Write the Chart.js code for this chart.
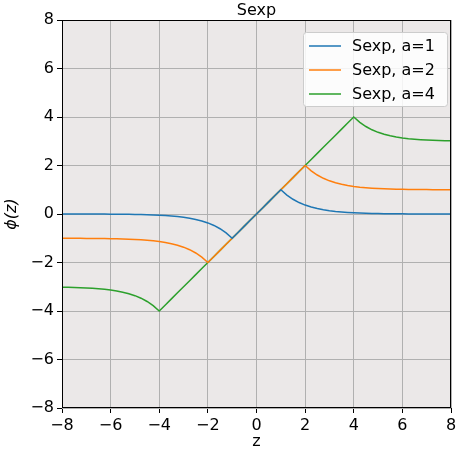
<!DOCTYPE html>
<html>
<head>
<meta charset="utf-8">
<script src="https://cdn.jsdelivr.net/npm/chart.js@4/dist/chart.umd.min.js"></script>
<style>
  html, body { margin: 0; padding: 0; background: #fff; }
  #wrap { width: 463px; height: 453px; }
</style>
</head>
<body>
<div id="wrap"><canvas id="c"></canvas></div>
<script>
// values
const zValues = [-8, -7.75, -7.5, -7.25, -7, -6.75, -6.5, -6.25, -6, -5.75, -5.5, -5.25, -5, -4.75, -4.5, -4.25,
    -4, -3.75, -3.5, -3.25, -3, -2.75, -2.5, -2.25, -2, -1.75, -1.5, -1.25, -1, -0.75, -0.5, -0.25,
    0, 0.25, 0.5, 0.75, 1, 1.25, 1.5, 1.75, 2, 2.25, 2.5, 2.75, 3, 3.25, 3.5, 3.75,
    4, 4.25, 4.5, 4.75, 5, 5.25, 5.5, 5.75, 6, 6.25, 6.5, 6.75, 7, 7.25, 7.5, 7.75, 8];
const sexpA1 = [-0.001, -0.001, -0.002, -0.002, -0.002, -0.003, -0.004, -0.005, -0.007, -0.009, -0.011, -0.014,
    -0.018, -0.024, -0.03, -0.039, -0.05, -0.064, -0.082, -0.105, -0.135, -0.174, -0.223, -0.287, -0.368,
    -0.472, -0.607, -0.779, -1, -0.75, -0.5, -0.25, 0, 0.25, 0.5, 0.75,
    1, 0.779, 0.607, 0.472, 0.368, 0.287, 0.223, 0.174, 0.135, 0.105, 0.082, 0.064, 0.05, 0.039, 0.03,
    0.024, 0.018, 0.014, 0.011, 0.009, 0.007, 0.005, 0.004, 0.003, 0.002, 0.002, 0.002, 0.001, 0.001];
const sexpA2 = [-1.002, -1.003, -1.004, -1.005, -1.007, -1.009, -1.011, -1.014, -1.018, -1.024, -1.03, -1.039,
    -1.05, -1.064, -1.082, -1.105, -1.135, -1.174, -1.223, -1.287, -1.368, -1.472, -1.607, -1.779, -2,
    -1.75, -1.5, -1.25, -1, -0.75, -0.5, -0.25, 0, 0.25, 0.5, 0.75, 1, 1.25, 1.5, 1.75,
    2, 1.779, 1.607, 1.472, 1.368, 1.287, 1.223, 1.174, 1.135, 1.105, 1.082, 1.064, 1.05, 1.039, 1.03,
    1.024, 1.018, 1.014, 1.011, 1.009, 1.007, 1.005, 1.004, 1.003, 1.002];
const sexpA4 = [-3.018, -3.024, -3.03, -3.039, -3.05, -3.064, -3.082, -3.105, -3.135, -3.174, -3.223, -3.287,
    -3.368, -3.472, -3.607, -3.779, -4,
    -3.75, -3.5, -3.25, -3, -2.75, -2.5, -2.25, -2, -1.75, -1.5, -1.25, -1, -0.75, -0.5, -0.25,
    0, 0.25, 0.5, 0.75, 1, 1.25, 1.5, 1.75, 2, 2.25, 2.5, 2.75, 3, 3.25, 3.5, 3.75,
    4, 3.779, 3.607, 3.472, 3.368, 3.287, 3.223, 3.174, 3.135, 3.105, 3.082, 3.064, 3.05, 3.039, 3.03,
    3.024, 3.018];
const seriesLabels = ['Sexp, a=1', 'Sexp, a=2', 'Sexp, a=4'];
const seriesColors = ['#1f77b4', '#ff7f0e', '#2ca02c'];
const axisTicks = [-8, -6, -4, -2, 0, 2, 4, 6, 8];

const FONT = 'DejaVu Sans';
const pts = ys => zValues.map((z, i) => ({x: z, y: ys[i]}));

const decor = {
    id: 'decor',
    beforeDraw(chart) {
        const {ctx, chartArea: a} = chart;
        ctx.save();
        ctx.fillStyle = '#ebe8e8';
        ctx.fillRect(a.left, a.top, a.right - a.left, a.bottom - a.top);
        ctx.restore();
    },
    afterDraw(chart) {
        const {ctx, chartArea: a} = chart;
        ctx.save();
        ctx.strokeStyle = '#000';
        ctx.lineWidth = 1;
        ctx.strokeRect(a.left + 0.5, a.top + 0.5, a.right - a.left - 1, a.bottom - a.top - 1);
        ctx.fillStyle = '#000';
        ctx.font = `16px "${FONT}"`;
        ctx.textAlign = 'center';
        ctx.textBaseline = 'alphabetic';
        ctx.fillText('Sexp', (a.left + a.right) / 2, 15);
        // legend box
        const bx = 303, by = 32, bw = 144, bh = 74;
        ctx.fillStyle = 'rgba(255,255,255,0.85)';
        ctx.strokeStyle = '#cccccc';
        ctx.beginPath();
        ctx.roundRect(bx + 0.5, by + 0.5, bw, bh, 3);
        ctx.fill();
        ctx.stroke();
        ctx.textAlign = 'left';
        ctx.textBaseline = 'middle';
        seriesLabels.forEach((lab, i) => {
            const y = by + 14 + i * 24;
            ctx.strokeStyle = seriesColors[i];
            ctx.lineWidth = 1.5;
            ctx.beginPath();
            ctx.moveTo(bx + 6, y);
            ctx.lineTo(bx + 38, y);
            ctx.stroke();
            ctx.fillStyle = '#000';
            ctx.fillText(lab, bx + 49, y + 1);
        });
        ctx.restore();
    }
};

const axis = (title, style) => ({
    type: 'linear', min: -8, max: 8,
    afterBuildTicks: s => { s.ticks = axisTicks.map(v => ({value: v})); },
    grid: {color: '#b0b0b0', tickLength: 5, tickColor: '#000'},
    border: {display: false},
    ticks: {color: '#000', font: {family: FONT, size: 16}, padding: 3,
        callback: v => v < 0 ? '\u2212' + Math.abs(v) : String(v)},
    title: {display: true, text: title, color: '#000', font: {family: FONT, size: 16, style}, padding: 2}
});

const xAxis = axis('z', 'normal');
xAxis.afterFit = s => { s.height = 45; };
const yAxis = axis('\u03d5(z)', 'italic');
yAxis.afterFit = s => { s.width = 62; };

new Chart(document.getElementById('c'), {
    type: 'line',
    data: {
        datasets: [sexpA1, sexpA2, sexpA4].map((ys, i) => ({
            label: seriesLabels[i],
            data: pts(ys),
            borderColor: seriesColors[i],
            borderWidth: 1.5,
            pointRadius: 0,
            tension: 0,
            fill: false
        }))
    },
    options: {
        responsive: true,
        maintainAspectRatio: false,
        animation: false,
        layout: {padding: {top: 20, right: 12, left: 0, bottom: 0}},
        plugins: {legend: {display: false}, title: {display: false}, tooltip: {enabled: false}},
        scales: {x: xAxis, y: yAxis}
    },
    plugins: [decor]
});
</script>
</body>
</html>
